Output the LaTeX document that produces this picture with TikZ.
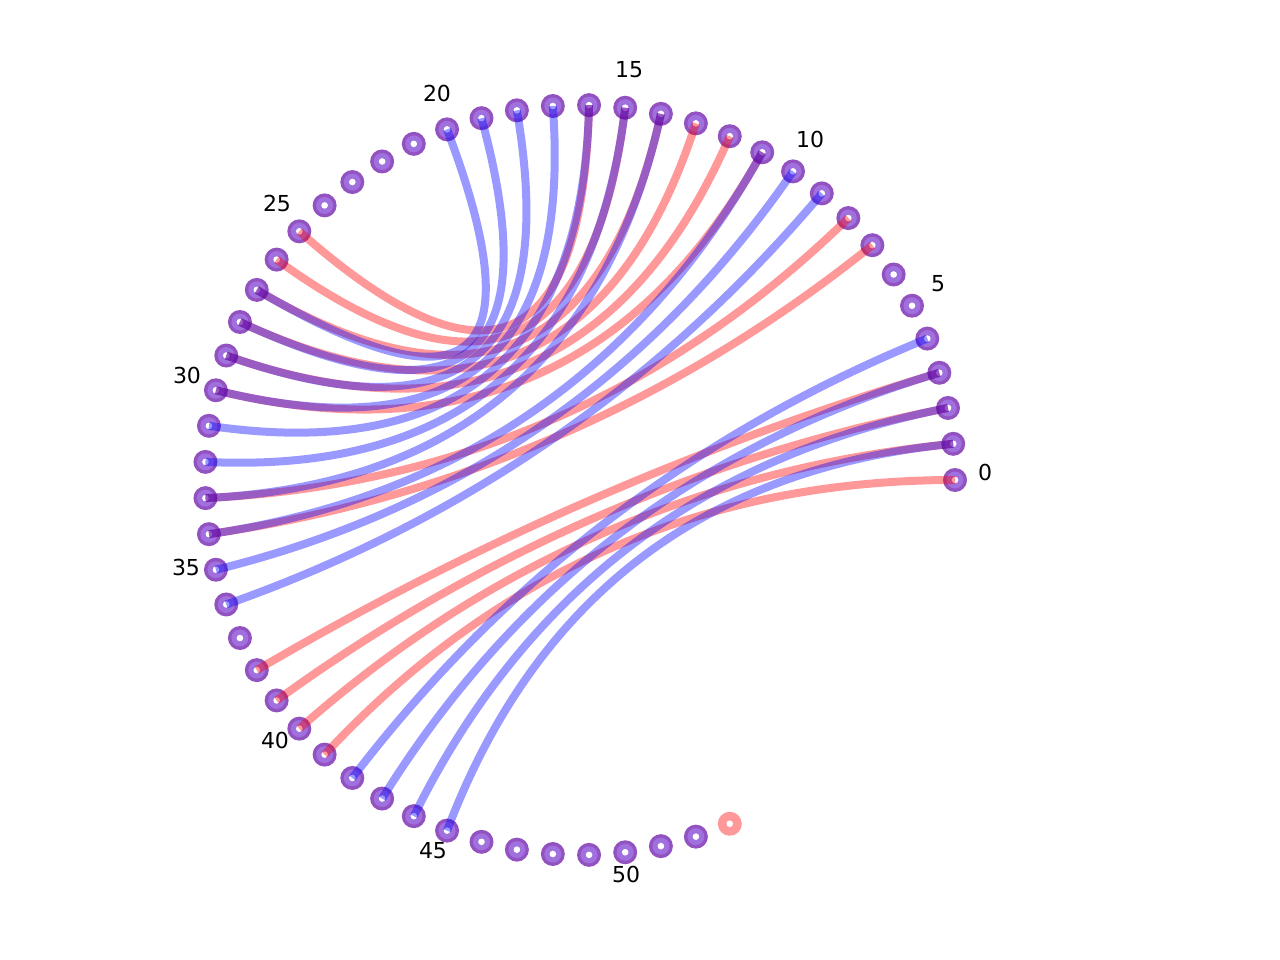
\documentclass[tikz,border=0pt]{standalone}
\usepackage{fontspec}
\setmainfont{DejaVu Sans}
\usetikzlibrary{calc}
\definecolor{ringouter}{RGB}{146,82,192}
\definecolor{ringinner}{RGB}{160,112,222}
\definecolor{ringpink}{RGB}{255,153,153}
\tikzset{
  rededge/.style={draw=red, draw opacity=0.4, line width=8pt, line cap=butt},
  blueedge/.style={draw=blue, draw opacity=0.4, line width=8pt, line cap=butt},
  lbl/.style={font=\fontsize{22}{26}\selectfont, text=black, inner sep=0pt}
}
\newcommand\chord[3]{\draw[#1] (n#2) .. controls ($(n#2)!0.6667!(c)$) and ($(n#3)!0.6667!(c)$) .. (n#3);}
\begin{document}
\begin{tikzpicture}[x=1pt,y=-1pt]
\useasboundingbox (0,0) rectangle (1280,960);
\coordinate (c) at (580,480);
\foreach \k in {0,...,53} {
  \coordinate (n\k) at ({580+375*cos(\k*5.538462)},{480-375*sin(\k*5.538462)});
}
% nodes
\foreach \k in {0,...,52} {
  \fill[ringouter] (n\k) circle [radius=12pt];
  \fill[ringinner] (n\k) circle [radius=8.5pt];
  \fill[white] (n\k) circle [radius=3.3pt];
}
\fill[ringpink] (n53) circle [radius=12pt];
\fill[white] (n53) circle [radius=3.3pt];
% red chords
\foreach \a/\b in {25/16,26/15,27/14,28/13,29/12,30/11,33/8,34/7,0/41,1/40,2/39,3/38} {
  \chord{rededge}{\a}{\b}
}
% blue chords
\foreach \a/\b in {27/20,28/19,29/18,30/17,31/16,32/15,33/14,34/11,35/10,36/9,1/45,2/44,3/43,4/42} {
  \chord{blueedge}{\a}{\b}
}
% labels
\node[lbl] (l0) at (985,472) {0};
\node[lbl] (l5) at (938,284) {5};
\node[lbl] (l10) at (810,139) {10};
\node[lbl] (l15) at (629,70) {15};
\node[lbl] (l20) at (437,93) {20};
\node[lbl] (l25) at (277,203) {25};
\node[lbl] (l30) at (187,375) {30};
\node[lbl] (l35) at (186,567) {35};
\node[lbl] (l40) at (275,740) {40};
\node[lbl] (l45) at (433,851) {45};
\node[lbl] (l50) at (626,874) {50};
\end{tikzpicture}
\end{document}
